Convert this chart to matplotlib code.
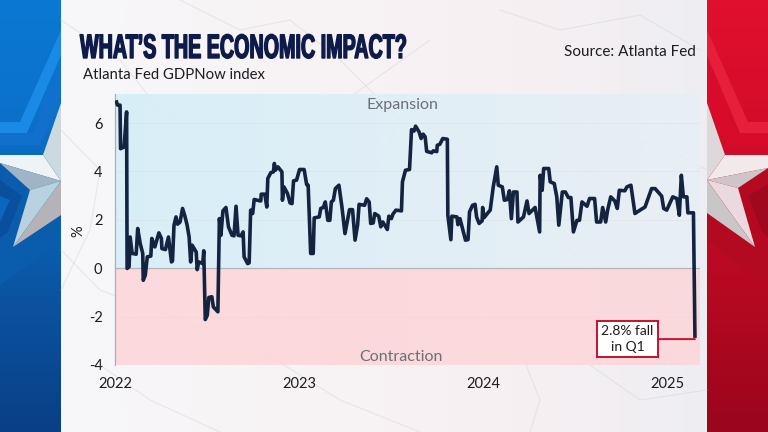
import numpy as np
import pandas as pd
import matplotlib
matplotlib.use("Agg")
import matplotlib.pyplot as plt
from matplotlib.patches import Polygon
from matplotlib.colors import LinearSegmentedColormap
from matplotlib.transforms import Affine2D
import matplotlib.patheffects as pe

TITLE = "WHAT’S THE ECONOMIC IMPACT?"
SUBTITLE = "Atlanta Fed GDPNow index"
SOURCE = "Source: Atlanta Fed"
START = "2022-01-01"
YEAR_TICKS = ["2022-01-01", "2023-01-01", "2024-01-01", "2025-01-01"]
YEAR_LABELS = ["2022", "2023", "2024", "2025"]
Y_TICKS = [-4, -2, 0, 2, 4, 6]
Y_LABELS = ["-4", "-2", "0", "2", "4", "6"]

days_2022 = [2,5,10,11,18,23,24,28,30,34,42,45,50,55,56,60,64,71,73,79,87,92,93,100,106,112,114,117,121,124,129,134,139,143,147,150,153,161,163,166,174,176,179,183,186,192,195,204,207,210,214,220,225,232,236,240,244,250,254,256,263,266,269,273,276,282,289,290,297,301,303,309,314,316,318,323,331,332,335,342,347,351,354,360,366]
gdp_2022 = [6.94,6.74,6.74,4.94,5.01,6.46,-0.01,0.06,1.29,0.61,0.58,1.64,1.02,0.61,-0.50,-0.29,0.47,0.50,1.23,0.88,1.46,1.23,0.81,0.77,1.29,0.26,0.30,1.78,2.12,1.82,1.91,2.47,2.12,1.78,1.29,0.26,0.95,0.67,-0.06,0.26,0.19,0.72,-2.12,-1.94,-1.21,-1.18,-1.60,-1.80,2.05,1.36,2.37,2.51,1.71,1.36,1.34,2.56,1.36,1.34,1.50,0.47,0.19,0.22,2.40,2.26,2.84,2.81,2.78,3.06,3.06,2.53,3.71,3.95,3.98,4.33,4.05,4.19,3.98,2.81,3.36,3.09,2.70,2.67,3.61,3.64,4.08]
days_2023 = [375,380,383,388,393,395,405,408,413,417,422,426,429,433,437,444,450,456,465,471,476,481,484,495,499,504,507,512,515,523,527,531,540,543,548,551,557,568,570,576,584,588,593,596,603,607,611,615,618,628,631,638,639,644,650,659,660,666,668,678,680,684,695,700,703,709,714,717,722,728,729,732,741]
gdp_2023 = [4.08,3.46,3.43,0.61,0.61,2.08,2.12,2.47,2.51,2.74,1.98,1.98,2.74,2.81,3.29,3.43,2.53,1.43,2.42,2.42,1.16,1.78,2.64,2.60,2.87,2.74,1.85,1.87,2.26,2.15,1.71,1.91,1.60,2.15,2.05,2.23,2.40,2.37,3.57,4.05,4.08,5.73,5.67,5.87,5.63,5.36,5.54,5.43,4.83,4.77,4.85,4.82,5.08,5.12,5.36,5.33,2.19,1.18,2.15,2.12,1.80,2.05,1.16,1.18,2.33,2.60,2.64,2.12,1.85,1.96,2.51,2.09,2.33]
days_2024 = [744,750,757,760,768,772,778,782,786,790,797,799,810,817,821,833,842,843,847,850,860,863,871,876,880,887,893,899,904,909,916,921,926,936,941,951,955,963,967,973,977,983,991,996,1000,1011,1015,1023,1031,1041,1051,1064,1071,1084,1088,1094,1106,1114,1119,1123,1127,1134,1136,1147,1150]
gdp_2024 = [2.40,3.36,4.19,3.43,3.36,2.81,2.84,3.20,2.05,3.15,3.15,1.91,2.12,2.78,2.26,2.51,1.50,3.84,3.22,4.12,4.12,3.57,3.50,2.95,1.78,3.15,3.15,2.92,2.92,1.50,1.98,1.98,2.74,2.56,2.88,2.88,1.91,1.91,2.51,1.91,2.42,2.95,2.78,2.47,3.22,3.20,3.36,3.43,2.26,2.40,2.53,3.29,3.29,2.98,2.47,2.40,2.95,2.88,2.19,3.84,2.95,2.95,2.29,2.29,-2.88]

dates = pd.Timestamp(START) + pd.to_timedelta(days_2022 + days_2023 + days_2024, unit="D")
values = gdp_2022 + gdp_2023 + gdp_2024

NAVY = "#14233f"
RED = "#c8102e"
BODY = ["Lato", "DejaVu Sans"]


class TallHeavy(pe.AbstractPathEffect):
    """Stretch glyphs vertically about the baseline, to mimic a condensed display face."""
    def __init__(self, sy, stroke):
        super().__init__()
        self.sy, self.stroke = sy, stroke

    def draw_path(self, renderer, gc, tpath, affine, rgbFace=None):
        y0 = affine.get_matrix()[1, 2]
        tr = affine + Affine2D().translate(0, -y0).scale(1, self.sy).translate(0, y0)
        gc0 = renderer.new_gc()
        gc0.copy_properties(gc)
        gc0.set_linewidth(self.stroke)
        gc0.set_foreground(rgbFace)
        renderer.draw_path(gc0, tpath, tr, rgbFace)
        gc0.restore()


fig = plt.figure(figsize=(7.68, 4.32), dpi=100)

# ---------- decorative backdrop in pixel space ----------
bg = fig.add_axes([0, 0, 1, 1], zorder=0)
bg.axis("off")


def vgrad(x0, x1, colors):
    cmap = LinearSegmentedColormap.from_list("g", colors)
    bg.imshow(np.linspace(0, 1, 64).reshape(-1, 1), cmap=cmap, extent=(x0, x1, 432, 0),
              aspect="auto", zorder=1)


vgrad(0, 62, ["#0a78d2", "#0a72cc", "#0a62b4", "#0b4f9c", "#0a3f86"])
vgrad(706, 768, ["#e00f2e", "#d60d2a", "#c40a26", "#b00820", "#9a061c"])


def poly(pts, color, z=2):
    bg.add_patch(Polygon(pts, closed=True, facecolor=color, edgecolor="none", zorder=z))


# blue chevrons
poly([(0, 133), (27, 133), (61, 55), (61, 30), (20, 122), (0, 122)], "#1a8ae6")
poly([(0, 145), (40, 145), (61, 98), (61, 62), (33, 133), (0, 133)], "#1170cc")
poly([(0, 163), (33, 190), (13, 248), (61, 216), (61, 240), (0, 285)], "#0a5cac")
poly([(0, 180), (22, 196), (8, 232), (0, 238)], "#0a4f9e")
poly([(0, 196), (10, 200), (0, 222)], "#0a67bb")
# left star
poly([(0, 155), (43, 155), (61, 181), (0, 163)], "#eef3f6", 3)
poly([(0, 163), (61, 181), (30, 190)], "#9fb4c4", 3)
poly([(61, 103), (43, 155), (61, 181)], "#ccd9df", 3)
poly([(30, 190), (61, 181), (13, 247)], "#b8d2e0", 3)
poly([(61, 181), (61, 215), (13, 247)], "#b6b3b8", 3)

# red chevrons
poly([(768, 133), (740, 133), (707, 55), (707, 30), (748, 122), (768, 122)], "#e81f3a")
poly([(768, 145), (727, 145), (707, 98), (707, 62), (735, 133), (768, 133)], "#d80c2a")
poly([(768, 168), (738, 188), (755, 247), (707, 213), (707, 240), (768, 290)], "#b30a22")
poly([(768, 184), (748, 196), (762, 232), (768, 238)], "#a0081e")
# right star
poly([(768, 155), (725, 155), (707, 180), (768, 168)], "#f1e9ea", 3)
poly([(768, 168), (707, 180), (738, 188)], "#cfc4c8", 3)
poly([(706, 100), (725, 155), (707, 180)], "#ddd8da", 3)
poly([(738, 188), (707, 180), (755, 247)], "#ead9de", 3)
poly([(707, 180), (707, 213), (755, 247)], "#c9c6c8", 3)

# marble panel
panel_l = np.array([247, 247, 249]) / 255
panel_m = np.array([247, 240, 242]) / 255
panel_r = np.array([238, 238, 242]) / 255
t = np.linspace(0, 1, 300)[None, :, None]
panel = np.where(t < 0.7, panel_l + (panel_m - panel_l) * (t / 0.7),
                 panel_m + (panel_r - panel_m) * ((t - 0.7) / 0.3))
bg.imshow(panel, extent=(61, 707, 432, 0), aspect="auto", zorder=4)
veins = [
    [(61, 20), (120, 60), (160, 110), (240, 160), (300, 130), (360, 90), (430, 40)],
    [(180, 0), (240, 30), (290, 20), (340, 60), (380, 100), (400, 120), (370, 180), (330, 235)],
    [(61, 250), (100, 290), (180, 320), (260, 350), (340, 400), (420, 432)],
    [(430, 170), (500, 210), (560, 240), (620, 300), (690, 340)],
    [(520, 350), (540, 400), (530, 432)],
    [(440, 100), (510, 120), (570, 180), (650, 140), (707, 170)],
    [(100, 365), (150, 400), (220, 432)],
    [(500, 10), (560, 30), (640, 15), (700, 50)],
    [(61, 130), (100, 170), (90, 230), (61, 290)],
    [(590, 365), (640, 400), (707, 390)],
]
for v in veins:
    xs, ys = zip(*v)
    bg.plot(xs, ys, color="#cfd0d4", lw=0.8, alpha=0.4, zorder=5, solid_joinstyle="round")

L, R, T, B = 115, 700, 94, 365
# tinted bands behind the chart
tb = np.linspace(0, 1, 200)[None, :, None]
blue = (np.array([212, 238, 249]) + (np.array([232, 238, 245]) - np.array([212, 238, 249])) * tb) / 255
bg.imshow(np.dstack([blue, np.full(blue.shape[:2] + (1,), 0.88)]), extent=(L, R, 268, T), aspect="auto", zorder=6)
pink = (np.array([252, 214, 218]) + (np.array([252, 216, 218]) - np.array([252, 214, 218])) * tb) / 255
bg.imshow(np.dstack([pink, np.full(pink.shape[:2] + (1,), 0.9)]), extent=(L, R, B, 268), aspect="auto", zorder=6)
bg.set_xlim(0, 768)
bg.set_ylim(432, 0)

# ---------- chart ----------
ax = fig.add_axes([L / 768, 1 - B / 432, (R - L) / 768, (B - T) / 432], zorder=2)
ax.patch.set_alpha(0)
ax.set_ylim(-4, 7.2)
x0 = pd.Timestamp(START)
ax.set_xlim(x0, x0 + pd.Timedelta(days=1160))

for y in [2, 4, 6, -2]:
    ax.axhline(y, color="#d9dde2", lw=0.6, alpha=0.45, zorder=1)
ax.axhline(0, color="#b5b5b8", lw=0.9, zorder=1)

ax.plot(dates, values, color=NAVY, lw=2.6, solid_joinstyle="round", solid_capstyle="butt", zorder=3)

for s in ["top", "right", "bottom"]:
    ax.spines[s].set_visible(False)
ax.spines["left"].set_color("#a9b0b6")
ax.spines["left"].set_linewidth(0.9)

ax.set_yticks(Y_TICKS, Y_LABELS)
ax.set_xticks(pd.to_datetime(YEAR_TICKS), YEAR_LABELS)
ax.tick_params(axis="both", length=0, labelsize=10.5, labelcolor="#1c1c22")
ax.tick_params(axis="y", pad=9)
ax.tick_params(axis="x", pad=9)
for lab in ax.get_xticklabels() + ax.get_yticklabels():
    lab.set_family(BODY)
ax.set_ylabel("%", family=BODY, fontsize=10.5, color="#1c1c22")
ax.yaxis.set_label_coords(-30 / 585, 0.494)

ax.text(0.4915, 0.96, "Expansion", transform=ax.transAxes, ha="center", va="center",
        family=BODY, fontsize=11.5, color="#6d7078")
ax.text(0.489, 0.03, "Contraction", transform=ax.transAxes, ha="center", va="center",
        family=BODY, fontsize=11.5, color="#6d7078")

ax.annotate("2.8% fall\nin Q1", xy=(dates[-1], -2.93), xytext=(x0 + pd.Timedelta(days=1016), -2.93),
            ha="center", va="center", family=BODY, fontsize=10, color="#1c1c22", linespacing=1.35,
            bbox=dict(boxstyle="square,pad=0.32", fc="white", ec=RED, lw=1.4),
            arrowprops=dict(arrowstyle="-", color=RED, lw=1.4, shrinkA=0, shrinkB=0), zorder=4)

# ---------- headings ----------
fig.text(80 / 768, 1 - 58 / 432, TITLE, ha="left", va="baseline", color="#0d1a4a",
         family=["Liberation Sans", "DejaVu Sans"], fontweight="bold", fontsize=14.2,
         path_effects=[TallHeavy(1.72, 1.0)], zorder=5)
fig.text(83 / 768, 1 - 75 / 432, SUBTITLE, ha="left", va="center", color="#1c1c22",
         family=BODY, fontsize=10.7, zorder=5)
fig.text(696 / 768, 1 - 52 / 432, SOURCE, ha="right", va="center", color="#1c1c22",
         family=BODY, fontsize=11, zorder=5)

fig.savefig("out.png", dpi=100)
